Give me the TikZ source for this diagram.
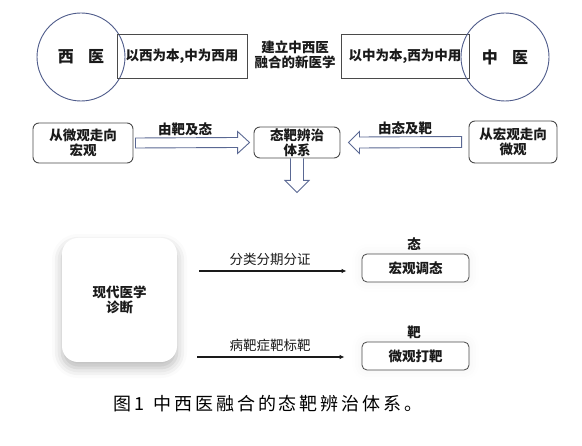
\documentclass[tikz,border=0pt]{standalone}
\usepackage{fontspec}
\setmainfont{Noto Sans CJK SC}
\newfontfamily\capfont[LetterSpace=16]{Noto Sans CJK SC}
\usetikzlibrary{calc,arrows.meta,shadows.blur}
\definecolor{txt}{HTML}{1A1A1A}
\definecolor{cblue}{HTML}{4E5B8A}
\definecolor{ablue}{HTML}{5A6893}
\definecolor{bgray}{HTML}{4A4A4A}
\begin{document}
\begin{tikzpicture}[x=1pt,y=-1pt,
  every node/.style={inner sep=0pt, text=txt, align=center},
  bfont/.style={font=\fontsize{13.5}{15}\selectfont\bfseries},
  circ/.style={draw=cblue, line width=0.9pt, circle, minimum size=88pt, font=\fontsize{16}{16}\selectfont\bfseries},
  rbox/.style={draw=bgray, line width=0.8pt, minimum height=44pt, bfont},
  gbox/.style={draw=bgray, line width=0.9pt, rounded corners=6pt, bfont},
  harrow/.style={draw=ablue, line width=0.9pt, fill=white, line join=miter},
  bigbox/.style={fill=white, rounded corners=16pt, minimum width=115pt, minimum height=124pt, bfont,
    blur shadow={shadow xshift=0pt, shadow yshift=-6pt, shadow blur radius=10pt, shadow opacity=28}},
  sbox/.style={draw=bgray, line width=0.8pt, rounded corners=5pt, fill=white, minimum width=107pt, minimum height=28pt, bfont,
    blur shadow={shadow xshift=0pt, shadow yshift=0pt, shadow blur radius=10pt, shadow opacity=6}},
  plain/.style={font=\fontsize{13.5}{15}\selectfont},
  conn/.style={draw=txt, line width=1.4pt, -{Latex[length=5pt,width=4.5pt]}}
]
\useasboundingbox (0,0) rectangle (582,446);

% top row
\node[circ] (xy) at (81,57) {西\hspace{0.9em}医};
\node[rbox, minimum width=130pt] (b1) at (182,56) {以西为本,中为西用};
\node[bfont] (mid) at (295,55) {建立中西医\\融合的新医学};
\node[rbox, minimum width=128pt] (b2) at (405,56) {以中为本,西为中用};
\node[circ] (zy) at (505,57) {中\hspace{0.9em}医};

% second row
\node[gbox, minimum width=100pt, minimum height=40pt] (lb) at (83,143) {从微观走向\\宏观};
\node[gbox, minimum width=86pt, minimum height=31pt] (mb) at (297,142.5) {态靶辨治\\体系};
\node[gbox, minimum width=88pt, minimum height=42pt] (rb) at (513,142) {从宏观走向\\微观};

\draw[harrow] ($(lb.east)+(2,-5)$) -- ($(mb.west)+(-16,-5)$) -- ($(mb.west)+(-16,-11)$)
  -- ($(mb.west)+(-4,0)$) -- ($(mb.west)+(-16,11)$) -- ($(mb.west)+(-16,5)$) -- ($(lb.east)+(2,5)$) -- cycle;
\node[bfont] (l1) at (185,129) {由靶及态};

\draw[harrow] ($(rb.west)+(-7,-5.5)$) -- ($(mb.east)+(19,-5.5)$) -- ($(mb.east)+(19,-11)$)
  -- ($(mb.east)+(8,0)$) -- ($(mb.east)+(19,11)$) -- ($(mb.east)+(19,5.5)$) -- ($(rb.west)+(-7,5.5)$) -- cycle;
\node[bfont] (l2) at (405,128) {由态及靶};

\draw[harrow] ($(mb.south)+(-6.5,0)$) -- ($(mb.south)+(-6.5,22)$) -- ($(mb.south)+(-12,22)$)
  -- ($(mb.south)+(0,34)$) -- ($(mb.south)+(12,22)$) -- ($(mb.south)+(6.5,22)$) -- ($(mb.south)+(6.5,0)$);

% bottom part
\node[bigbox] (xd) at (119.5,300) {现代医学\\诊断};
\node[sbox] (t1) at (415.5,268) {宏观调态};
\node[sbox] (t2) at (415.5,356) {微观打靶};
\node[bfont] (tl1) at (414,244) {态};
\node[bfont] (tl2) at (414,332) {靶};

\coordinate (s1) at (199,271);
\coordinate (s2) at (197,357);
\draw[conn, shorten >=15pt] (s1) -- (s1 -| t1.west);
\draw[conn, shorten >=17pt] (s2) -- (s2 -| t2.west);
\node[plain] (p1) at (270,259) {分类分期分证};
\node[plain] (p2) at (270,345) {病靶症靶标靶};

% caption
\node[font=\capfont\fontsize{18}{18}\selectfont, text=black] (cap) at (268,404) {图1\hspace{0.5em}中西医融合的态靶辨治体系。};
\end{tikzpicture}
\end{document}
